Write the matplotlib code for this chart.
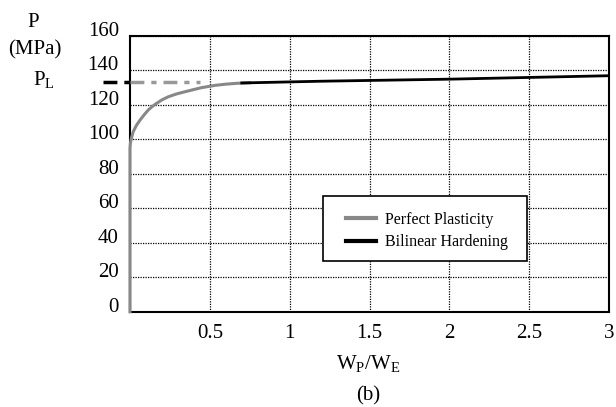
import matplotlib
matplotlib.use('Agg')
import matplotlib.pyplot as plt
import matplotlib.transforms as mtransforms
from matplotlib.patches import Rectangle

plt.rcParams['font.family'] = ['Liberation Serif', 'DejaVu Serif']
plt.rcParams['mathtext.fontset'] = 'custom'
plt.rcParams['mathtext.rm'] = 'Liberation Serif'
plt.rcParams['mathtext.it'] = 'Liberation Serif:italic'

# perfect plasticity curve
pp_x = [0.0, 0.0, 0.003, 0.01, 0.02, 0.04, 0.063, 0.09, 0.115, 0.14, 0.167, 0.2,
        0.24, 0.29, 0.344, 0.4, 0.449, 0.532, 0.6, 0.668, 0.75]
pp_y = [0.0, 95.0, 98.0, 101.0, 104.3, 108.0, 111.1, 114.3, 117.0, 119.0, 120.8, 122.8,
        124.6, 126.2, 127.5, 128.8, 129.9, 131.2, 131.9, 132.4, 132.7]

# bilinear hardening
bh_x = [0.70, 1.19, 2.0, 3.0]
bh_y = [132.6, 133.6, 134.8, 136.8]

PL = 133.0
pl_out_x = [-0.17, 0.0]
pl_in_x = [0.0, 0.44]

x_ticks = [0.5, 1, 1.5, 2, 2.5, 3]
x_ticklabels = ['0.5', '1', '1.5', '2', '2.5', '3']
y_ticks = [0, 20, 40, 60, 80, 100, 120, 140, 160]

fig = plt.figure(figsize=(6.16, 4.07), dpi=100)
ax = fig.add_axes([130 / 616, (407 - 311.7) / 407, 479 / 616, 276 / 407])

ax.set_xlim(0, 3)
ax.set_ylim(0, 160)
ax.set_xticks(x_ticks)
ax.set_xticklabels(x_ticklabels)
ax.set_yticks(y_ticks)
ax.tick_params(length=0, labelsize=15)
ax.tick_params(axis='y', pad=8)
ax.tick_params(axis='x', pad=9)

# y labels sit a bit above their gridlines
offset = mtransforms.ScaledTranslation(0, 7 / 100, fig.dpi_scale_trans)
for lab in ax.get_yticklabels():
    lab.set_transform(lab.get_transform() + offset)

ax.grid(True, color='black', linestyle=(0, (1, 1)), linewidth=0.9)
for s in ax.spines.values():
    s.set_linewidth(1.5)
    s.set_color('black')

ax.plot(pl_out_x, [PL, PL], color='black', linestyle=(0, (4, 2, 1.5, 2)), linewidth=2.5,
        clip_on=False, zorder=4)
ax.plot(pl_in_x, [PL, PL], color='#999999', linestyle=(0, (4, 2, 1.5, 2)), linewidth=2.5,
        zorder=4)
ax.plot(pp_x, pp_y, color='#888888', linewidth=2.2, zorder=5, clip_on=False,
        label='Perfect Plasticity')
ax.plot(bh_x, bh_y, color='black', linewidth=2.0, zorder=6, label='Bilinear Hardening')

ax.add_patch(Rectangle((0.403, 0.184), 0.426, 0.235, transform=ax.transAxes,
                       facecolor='white', edgecolor='black', linewidth=1.2, zorder=7))
leg = ax.legend(loc='center', bbox_to_anchor=(0.62, 0.292), frameon=False,
                fontsize=11.5, handlelength=1.85, handletextpad=0.6, labelspacing=0.4,
                borderpad=0)
leg.set_zorder(8)
for line in leg.get_lines():
    line.set_linewidth(3)

fig.text(33 / 616, 1 - 27 / 407, 'P', fontsize=15, ha='center', va='baseline')
fig.text(35 / 616, 1 - 54 / 407, '(MPa)', fontsize=15, ha='center', va='baseline')
fig.text(33 / 616, 1 - 85 / 407, r'$\mathrm{P_L}$', fontsize=15, ha='left', va='baseline')
fig.text(368 / 616, 1 - 369 / 407, r'$\mathrm{W_P/W_E}$', fontsize=15, ha='center', va='baseline')
fig.text(368 / 616, 1 - 400 / 407, '(b)', fontsize=15, ha='center', va='baseline')

fig.savefig('out.png', dpi=100)
